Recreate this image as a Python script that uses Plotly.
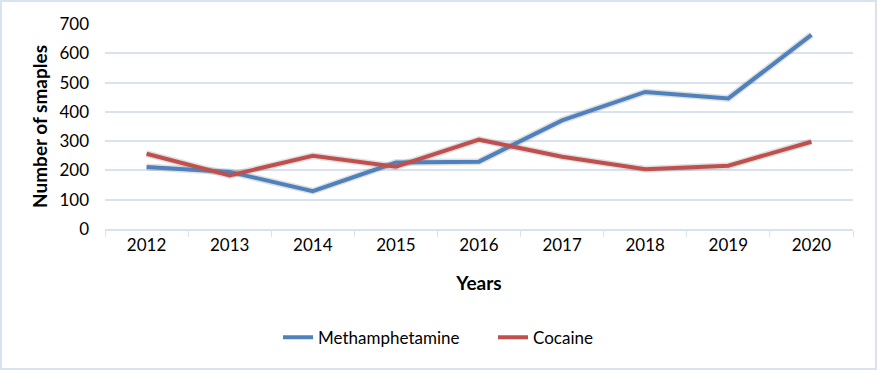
import plotly.graph_objects as go

years = ["2012", "2013", "2014", "2015", "2016", "2017", "2018", "2019", "2020"]
meth = [212, 195, 129, 227, 230, 371, 468, 446, 663]
cocaine = [257, 183, 250, 213, 305, 247, 204, 216, 298]
y_ticks = [0, 100, 200, 300, 400, 500, 600, 700]

FONT = "Lato"
GRID = "#D9E3F0"

fig = go.Figure()
# soft shadows
for vals in (meth, cocaine):
    fig.add_trace(go.Scatter(x=years, y=vals, mode="lines", showlegend=False,
                             hoverinfo="skip",
                             line=dict(color="rgba(0,0,0,0.12)", width=7)))
fig.add_trace(go.Scatter(x=years, y=meth, mode="lines", name="Methamphetamine",
                         line=dict(color="#4F81BD", width=4)))
fig.add_trace(go.Scatter(x=years, y=cocaine, mode="lines", name="Cocaine",
                         line=dict(color="#C0504D", width=4)))

fig.update_layout(
    width=877, height=370,
    margin=dict(l=105, r=24, t=24, b=141),
    paper_bgcolor="white", plot_bgcolor="white",
    font=dict(family=FONT, size=17, color="#000000"),
    legend=dict(orientation="h", x=(278 - 105) / 748, xanchor="left", y=-0.53, yanchor="middle",
                font=dict(family=FONT, size=17), entrywidth=170, entrywidthmode="pixels",
                traceorder="normal"),
    shapes=[dict(type="rect", xref="paper", yref="paper",
                 x0=-104/748, x1=1+23/748, y0=-140/205, y1=1+23/205,
                 line=dict(color=GRID, width=2), fillcolor="rgba(0,0,0,0)")],
)
fig.update_xaxes(
    type="category", tickson="boundaries", ticks="outside", ticklen=6,
    tickcolor=GRID, showline=True, linecolor=GRID, linewidth=2,
    showgrid=False, tickfont=dict(family=FONT, size=17),
    title=dict(text="<b>Years</b>", font=dict(family=FONT, size=19), standoff=22),
    range=[-0.5, 8.5],
)
fig.update_yaxes(
    range=[0, 700], tickvals=y_ticks, showgrid=True, gridcolor=GRID, gridwidth=2,
    zeroline=False, showline=False, tickfont=dict(family=FONT, size=17),
    ticks="", ticklabelstandoff=15,
    title=dict(text="<b>Number of smaples</b>", font=dict(family=FONT, size=19), standoff=6),
)

fig.write_html("out.html", config={"displayModeBar": False},
               post_script="document.body.style.margin='0';")
